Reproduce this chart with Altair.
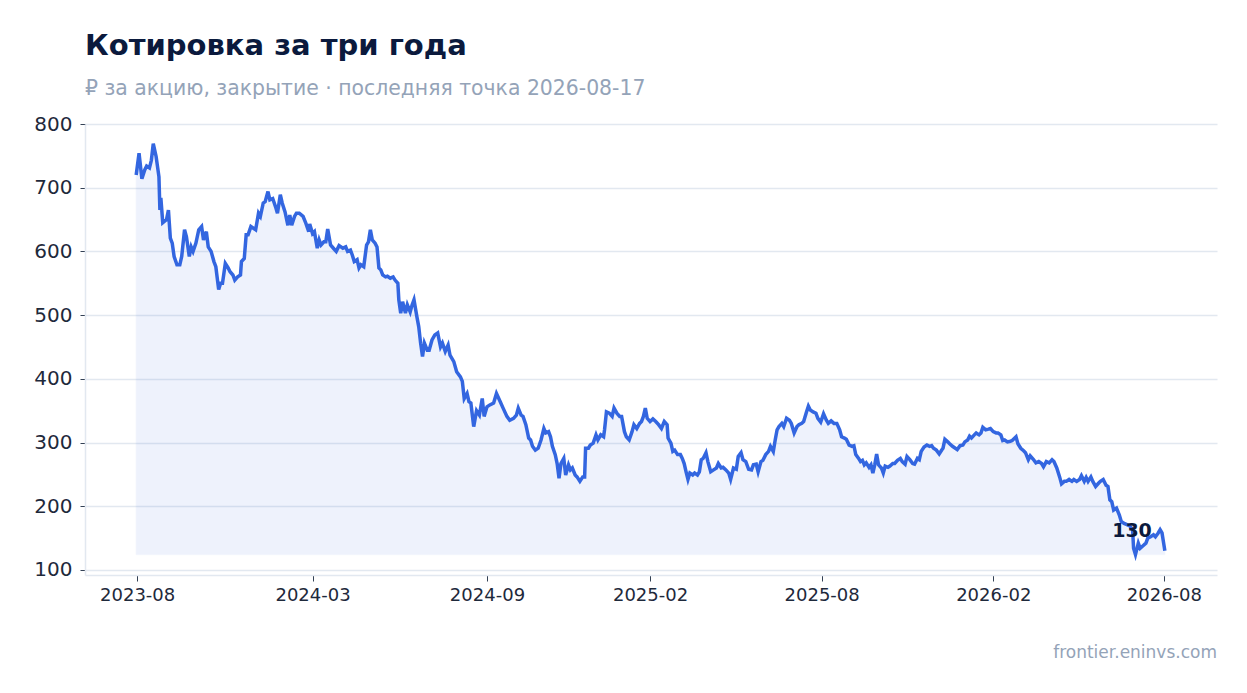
import pandas as pd
import altair as alt

# quote series: days since the first session, close price in rubles
start_date = "2023-08-28"
days = [
    0, 3, 6, 9, 11, 14, 16, 18, 21, 24, 25, 26, 28, 32, 34, 36, 38, 40, 43, 46,
    48, 51, 53, 56, 58, 60, 63, 66, 69, 71, 74, 76, 79, 82, 84, 87, 89, 91, 94, 97,
    99, 102, 104, 107, 110, 111, 114, 116, 118, 121, 124, 126, 129, 131, 134, 136, 139, 141, 144, 147,
    149, 152, 154, 157, 160, 162, 164, 167, 169, 172, 176, 179, 182, 183, 186, 188, 191, 193, 195, 198,
    200, 202, 205, 208, 211, 214, 218, 221, 223, 226, 228, 230, 233, 235, 237, 240, 243, 245, 247, 249,
    252, 254, 256, 258, 260, 263, 265, 268, 271, 273, 276, 277, 279, 281, 284, 286, 289, 291, 293, 296,
    298, 300, 302, 304, 307, 309, 312, 315, 318, 321, 323, 326, 329, 331, 335, 338, 342, 344, 346, 349,
    351, 353, 356, 359, 362, 365, 367, 370, 373, 377, 380, 384, 387, 391, 394, 398, 401, 403, 406, 408,
    411, 414, 416, 418, 421, 424, 427, 430, 432, 435, 437, 439, 442, 444, 446, 448, 451, 453, 456, 458,
    460, 463, 465, 468, 471, 473, 474, 477, 479, 482, 485, 487, 490, 493, 494, 496, 499, 502, 504, 507,
    510, 512, 515, 517, 520, 523, 525, 528, 531, 533, 535, 537, 539, 542, 545, 548, 551, 554, 557, 560,
    561, 564, 566, 568, 571, 574, 576, 578, 580, 582, 584, 587, 589, 592, 594, 596, 598, 601, 603, 606,
    609, 612, 614, 617, 619, 622, 625, 627, 630, 633, 635, 638, 640, 643, 646, 649, 651, 654, 656, 659,
    661, 664, 667, 669, 672, 674, 676, 678, 681, 683, 686, 689, 691, 694, 697, 699, 702, 704, 707, 709,
    711, 714, 717, 719, 722, 725, 728, 730, 733, 736, 739, 742, 744, 747, 749, 752, 755, 757, 759, 762,
    764, 766, 768, 770, 773, 775, 777, 779, 781, 783, 786, 788, 790, 793, 795, 798, 800, 803, 806, 808,
    811, 813, 816, 819, 821, 824, 826, 828, 831, 834, 837, 839, 841, 844, 847, 850, 851, 853, 856, 858,
    861, 864, 866, 869, 872, 874, 877, 879, 881, 884, 886, 889, 891, 893, 896, 899, 901, 904, 907, 909,
    912, 914, 916, 919, 922, 924, 928, 930, 933, 936, 938, 941, 943, 946, 949, 952, 955, 957, 960, 963,
    966, 968, 971, 974, 976, 979, 981, 984, 987, 989, 992, 995, 997, 1000, 1002, 1004, 1007, 1009, 1012, 1015,
    1017, 1020, 1023, 1025, 1027, 1029, 1031, 1034, 1037, 1039, 1042, 1045, 1048, 1051, 1052, 1054, 1057, 1059, 1062, 1065,
    1067, 1070, 1073, 1075, 1078, 1080, 1082, 1085,
]
prices = [
    720, 754, 714, 728, 734, 731, 743, 769, 749, 717, 665, 684, 645, 650, 665, 621, 613, 592, 579, 579,
    592, 634, 623, 592, 607, 600, 613, 634, 639, 618, 631, 607, 600, 584, 576, 540, 550, 550, 581, 574,
    568, 563, 555, 560, 563, 584, 589, 626, 626, 639, 636, 634, 660, 655, 676, 678, 694, 681, 683, 670,
    660, 689, 676, 662, 641, 657, 641, 655, 660, 660, 655, 644, 631, 643, 628, 631, 605, 618, 610, 615,
    615, 635, 610, 605, 600, 609, 605, 607, 600, 602, 594, 584, 587, 574, 579, 576, 610, 615, 634, 618,
    613, 607, 574, 571, 563, 560, 561, 558, 560, 555, 550, 524, 503, 521, 503, 516, 505, 516, 524, 498,
    482, 456, 435, 456, 445, 445, 461, 469, 472, 450, 456, 443, 453, 437, 427, 411, 403, 396, 369, 377,
    364, 362, 325, 350, 343, 369, 341, 356, 359, 362, 377, 364, 354, 341, 335, 338, 343, 354, 343, 341,
    328, 307, 304, 294, 288, 291, 304, 322, 315, 317, 309, 294, 281, 267, 244, 267, 275, 249, 265, 257,
    260, 249, 246, 239, 246, 246, 291, 291, 296, 299, 312, 304, 312, 309, 320, 348, 346, 341, 354, 346,
    341, 341, 317, 309, 304, 317, 328, 322, 330, 333, 341, 354, 338, 333, 337, 333, 328, 322, 333, 328,
    307, 299, 286, 288, 281, 281, 275, 267, 254, 242, 252, 249, 252, 249, 254, 273, 275, 284, 270, 254,
    257, 260, 267, 260, 261, 257, 252, 242, 260, 258, 278, 284, 273, 270, 258, 257, 265, 266, 254, 270,
    272, 281, 286, 294, 286, 304, 320, 325, 330, 325, 338, 335, 330, 315, 325, 328, 330, 333, 348, 357,
    351, 348, 346, 338, 332, 345, 335, 330, 334, 330, 330, 320, 309, 307, 305, 296, 294, 295, 281, 275,
    270, 272, 265, 268, 261, 265, 252, 265, 282, 265, 260, 252, 263, 261, 263, 267, 267, 272, 275, 270,
    266, 278, 273, 267, 266, 275, 273, 286, 293, 296, 294, 295, 291, 288, 282, 289, 291, 305, 301, 298,
    294, 291, 289, 295, 296, 301, 304, 310, 307, 312, 315, 312, 315, 324, 320, 321, 322, 317, 315, 315,
    312, 303, 304, 301, 302, 303, 309, 298, 291, 287, 284, 273, 279, 274, 268, 270, 267, 262, 270, 268,
    273, 270, 260, 246, 235, 239, 239, 242, 239, 242, 239, 242, 248, 239, 245, 239, 246, 239, 231, 236,
    239, 242, 233, 231, 210, 207, 194, 197, 186, 176, 173, 171, 169, 163, 134, 124, 142, 134, 138, 142,
    150, 152, 155, 152, 158, 163, 158, 130,
]

tick_dates = ["2023-08-29", "2024-03-01", "2024-09-01", "2025-02-20",
              "2025-08-20", "2026-02-17", "2026-08-16"]
y_ticks = [100, 200, 300, 400, 500, 600, 700, 800]

title = "Котировка за три года"
subtitle = "₽ за акцию, закрытие · последняя точка 2026-08-17"
source = "frontier.eninvs.com"

BLUE = "#3366e0"
NAVY = "#0b1a3d"
GREY = "#94a3b8"
FONT = "DejaVu Sans"

df = pd.DataFrame({
    "date": pd.to_datetime(start_date) + pd.to_timedelta(days, unit="D"),
    "price": prices,
})
last = df.tail(1)


def dt(s):
    d = pd.Timestamp(s)
    return alt.DateTime(year=d.year, month=d.month, date=d.day)


x_scale = alt.Scale(domain=[dt("2023-07-05"), dt("2026-10-11")])
y_scale = alt.Scale(domain=[92, 800], nice=False, zero=False)

x_enc = alt.X("date:T", scale=x_scale, title=None,
              axis=alt.Axis(values=[dt(s) for s in tick_dates], format="%Y-%m",
                            grid=False, labelFontSize=18, tickSize=6,
                            labelPadding=5))
y_enc = alt.Y("price:Q", scale=y_scale, title=None,
              axis=alt.Axis(values=y_ticks, grid=True, labelFontSize=20,
                            tickSize=5, labelPadding=8))

base = alt.Chart(df)

area = base.mark_area(color=BLUE, opacity=0.08, stroke=BLUE, strokeWidth=1,
                      strokeOpacity=0.6).encode(
    x=x_enc, y=y_enc, y2=alt.datum(min(prices)))

line = base.mark_line(color=BLUE, strokeWidth=3.5).encode(x=x_enc, y=y_enc)

end_label = alt.Chart(last).mark_text(
    align="right", baseline="alphabetic", dx=-13, dy=-14,
    fontSize=19, fontWeight="bold", color=NAVY, font=FONT
).encode(x="date:T", y="price:Q", text=alt.Text("price:Q", format="d"))

src = alt.Chart(pd.DataFrame({"t": [source]})).mark_text(
    align="right", baseline="middle", fontSize=17, color=GREY, font=FONT
).encode(x=alt.value(1132), y=alt.value(529), text="t:N")

chart = alt.layer(area, line, end_label, src).properties(
    width=1132,
    height=451,
    autosize=alt.AutoSizeParams(type="none"),
    padding={"left": 77, "top": 116, "right": 20, "bottom": 100},
    title=alt.TitleParams(
        text=title, subtitle=subtitle, anchor="start", frame="group",
        font=FONT, fontSize=29, fontWeight="bold", color=NAVY,
        subtitleFont=FONT, subtitleFontSize=20.4, subtitleColor=GREY,
        subtitlePadding=18, offset=15,
    ),
).configure_view(
    stroke=None
).configure_axis(
    domainColor="#e2e8f0",
    domainWidth=1.5,
    gridColor="#e2e8f0",
    gridWidth=1.5,
    tickColor="#334155",
    labelColor="#1e293b",
    labelFont=FONT,
)

chart.save("out.html", embed_options={"renderer": "svg", "actions": False})
